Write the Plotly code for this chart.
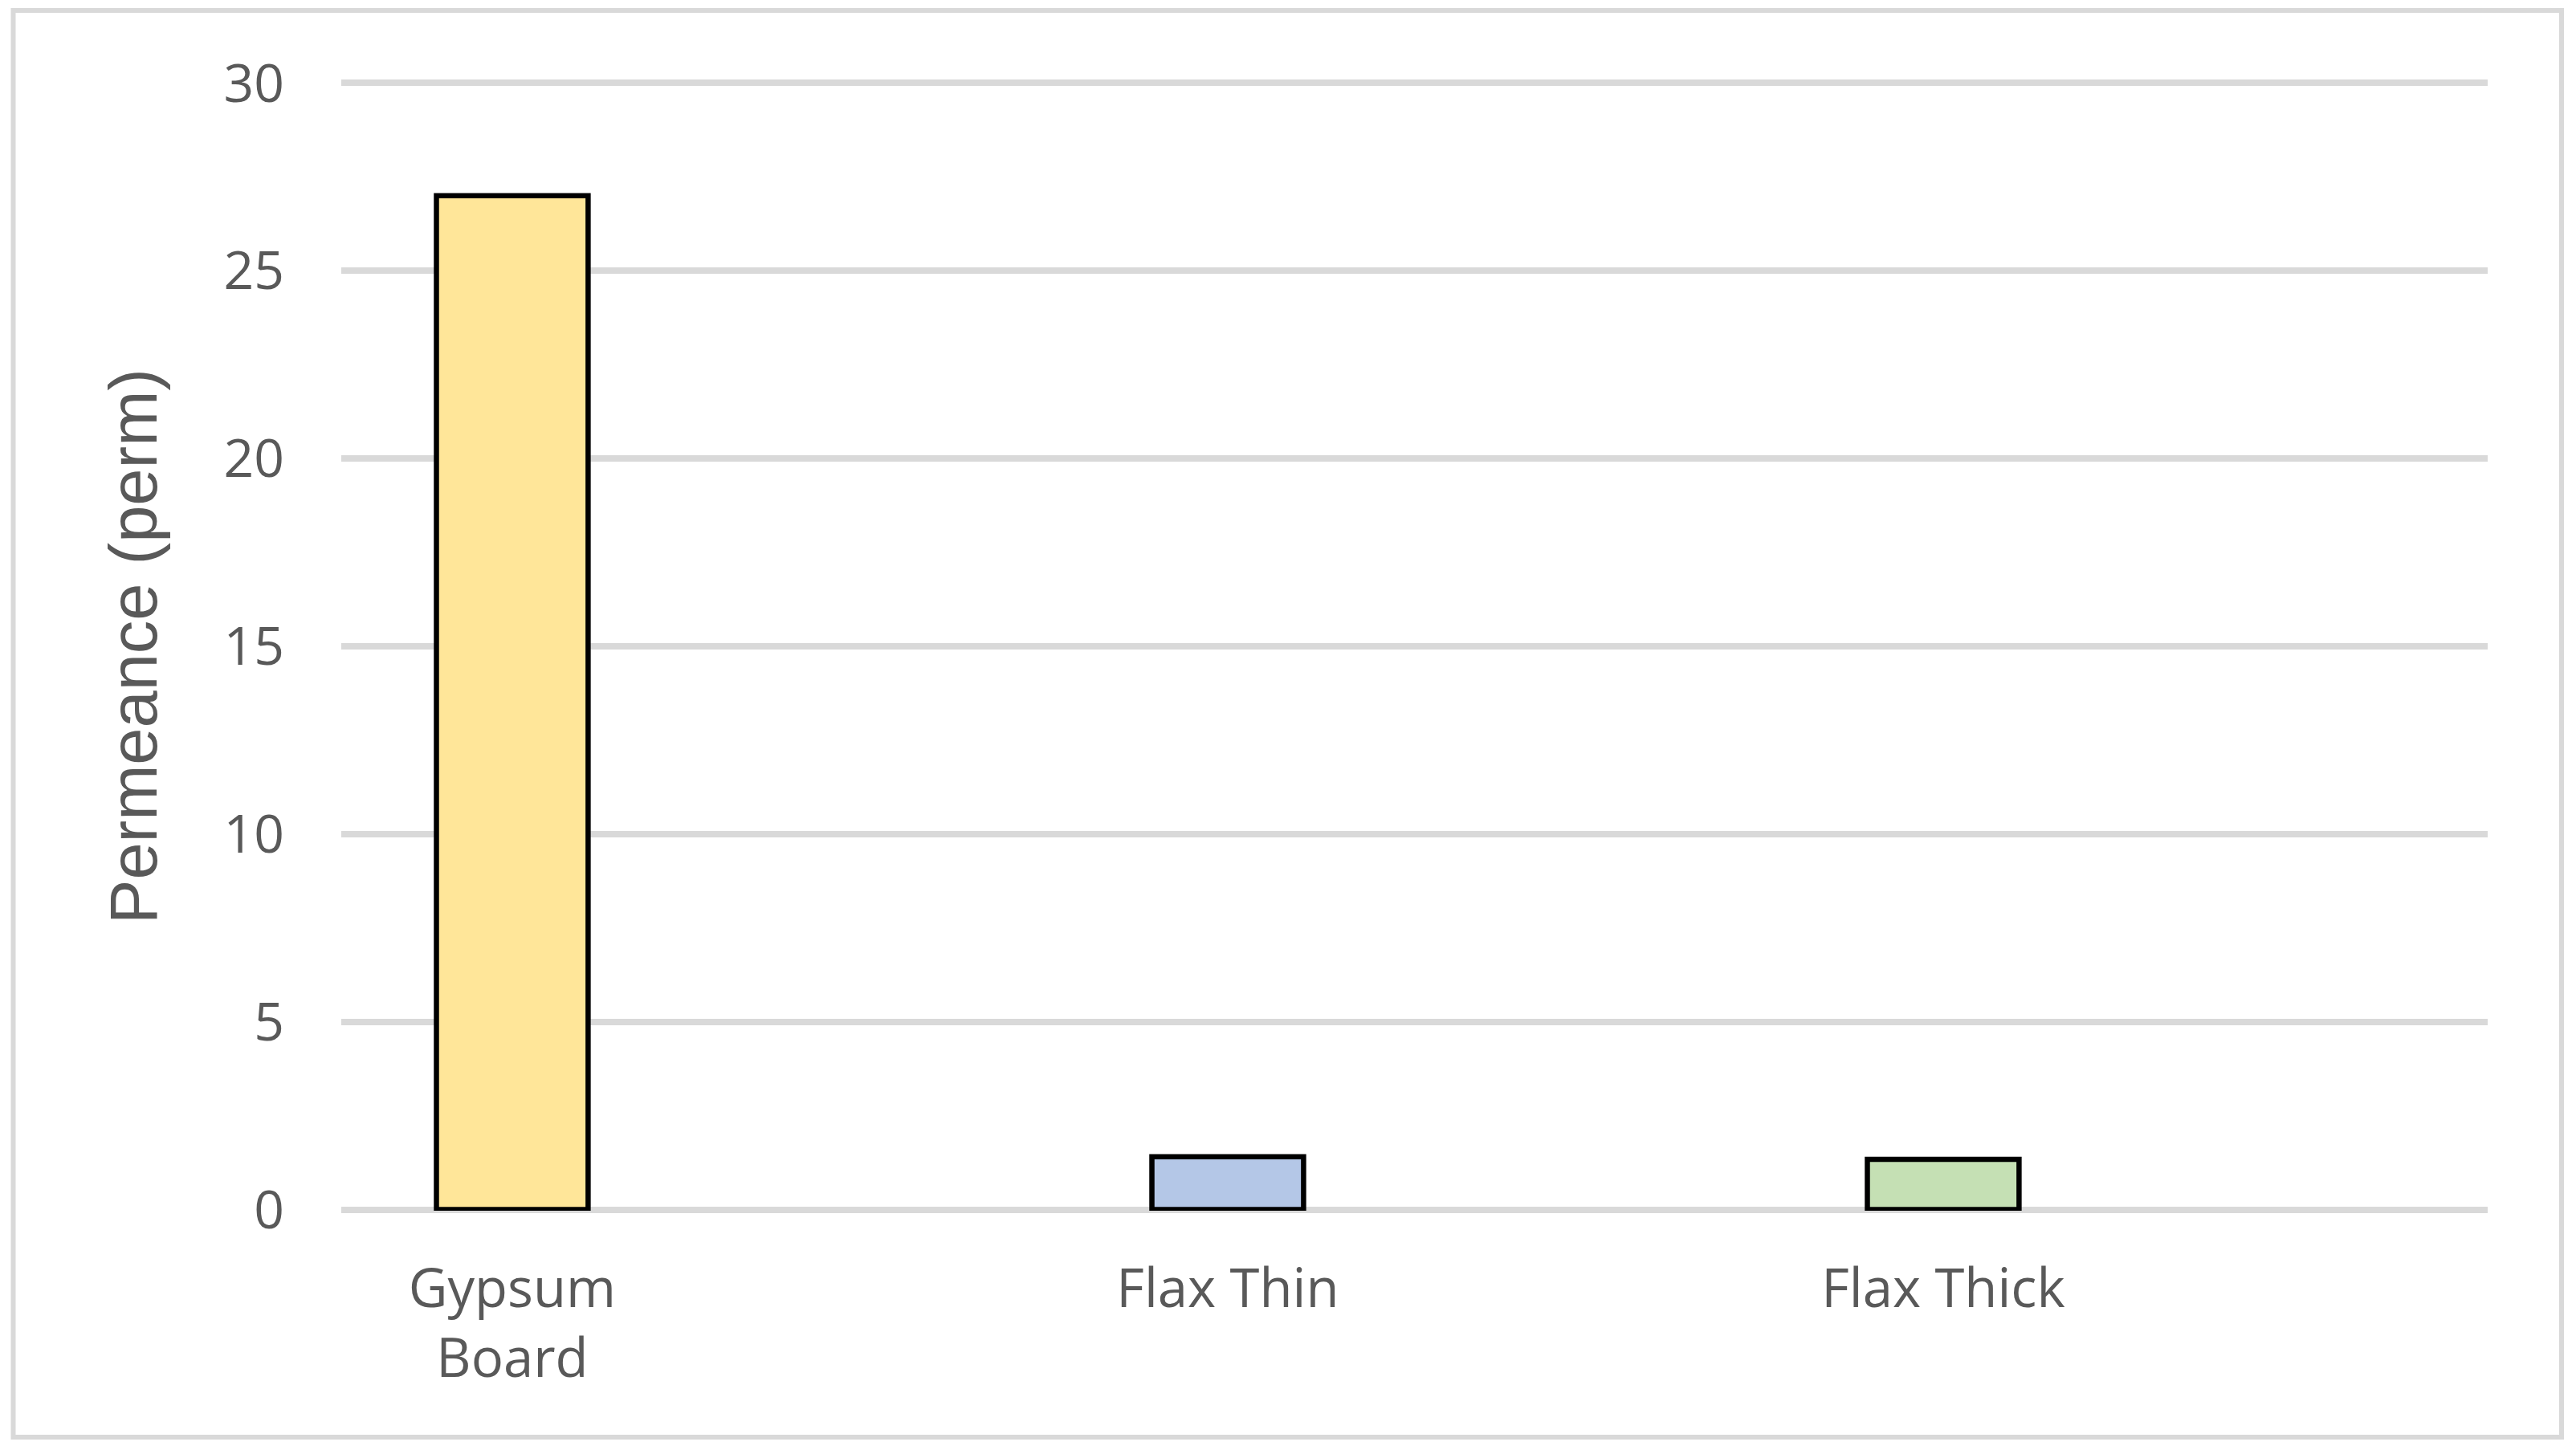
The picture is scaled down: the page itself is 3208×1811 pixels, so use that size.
import plotly.graph_objects as go

categories = ["Gypsum<br>Board", "Flax Thin", "Flax Thick"]
permeance = [27.0, 1.41, 1.34]
bar_colors = ["#FFE699", "#B4C7E7", "#C5E0B4"]
y_ticks = [0, 5, 10, 15, 20, 25, 30]

# page body has an 8px margin, so the figure is a bit smaller than the window
W, H = 3192, 1795
L, R, T, B = 417, 102, 94, 295

fig = go.Figure()

fig.add_trace(
    go.Bar(
        x=list(range(len(categories))),
        y=permeance,
        width=0.212,
        marker=dict(color=bar_colors, line=dict(color="black", width=6.5)),
        showlegend=False,
    )
)

# outer chart border
pw = W - L - R
ph = H - T - B
fig.add_shape(
    type="rect",
    xref="paper",
    yref="paper",
    x0=(8.5 - L) / pw,
    x1=(3182 - L) / pw,
    y0=(H - B - 1782) / ph,
    y1=(H - B - 5) / ph,
    line=dict(color="#D9D9D9", width=6),
    layer="below",
)

fig.update_layout(
    width=W,
    height=H,
    margin=dict(l=L, r=R, t=T, b=B, autoexpand=False),
    paper_bgcolor="white",
    plot_bgcolor="white",
    font=dict(family="Open Sans", color="#595959", size=66),
)

fig.update_xaxes(
    automargin=False,
    tickmode="array",
    tickvals=list(range(len(categories))),
    ticktext=categories,
    range=[-0.239, 2.761],
    showgrid=False,
    zeroline=False,
    showline=False,
    ticks="",
    ticklabelstandoff=52,
    tickfont=dict(family="Open Sans", size=67, color="#595959"),
)

fig.update_yaxes(
    automargin=False,
    range=[-0.03, 30.03],
    tickvals=y_ticks,
    showgrid=True,
    gridcolor="#D9D9D9",
    gridwidth=7.5,
    zeroline=False,
    showline=False,
    ticks="",
    ticklabelstandoff=70,
    tickfont=dict(family="Open Sans", size=66, color="#595959"),
    title=dict(
        text="Permeance (perm)",
        font=dict(family="Liberation Sans", size=83, color="#595959"),
        standoff=55,
    ),
)

fig.write_html("out.html")
